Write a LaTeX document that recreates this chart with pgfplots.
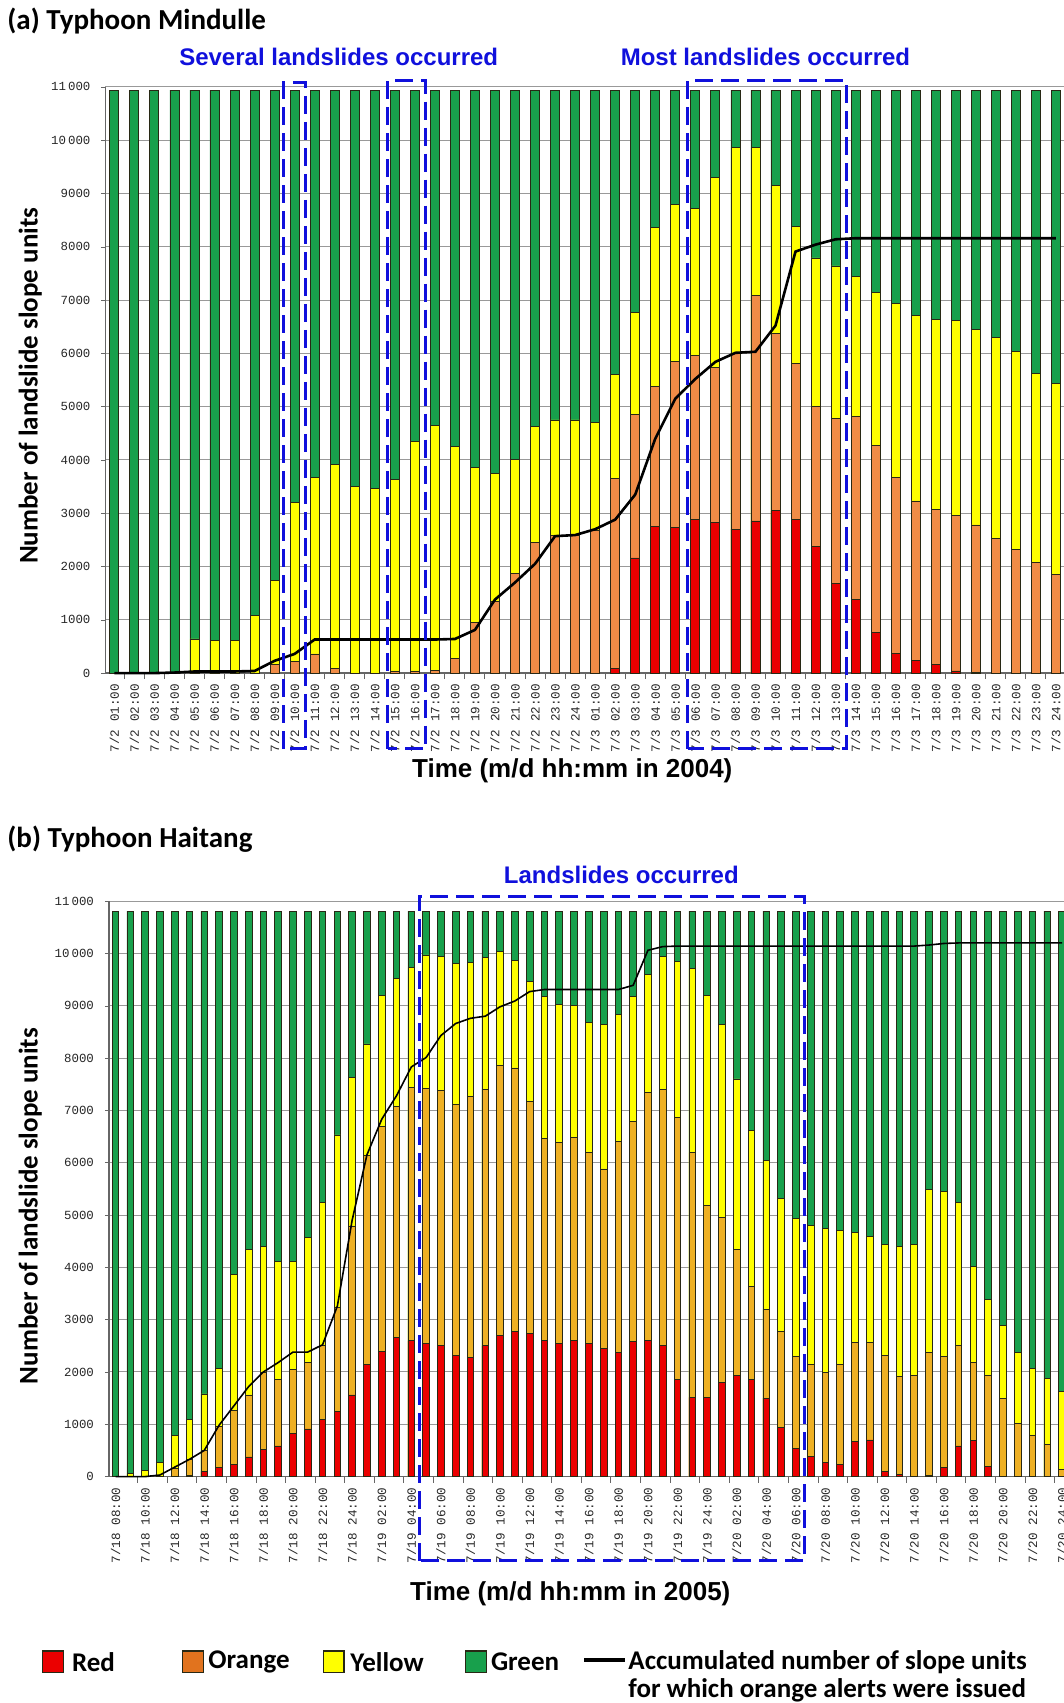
\documentclass[border=0pt]{standalone}
\usepackage{pgfplots}
\usepackage{pgfplotstable}
\pgfplotsset{compat=1.18}
\usepackage{fontspec}
\setmainfont{Carlito}
\newfontfamily\arialf{Liberation Sans}
\newfontfamily\monof{Liberation Mono}

\definecolor{cgreen}{RGB}{24,160,76}
\definecolor{cyellow}{RGB}{255,255,0}
\definecolor{corangeA}{RGB}{240,140,70}
\definecolor{corangeB}{RGB}{238,176,36}
\definecolor{cred}{RGB}{235,0,0}
\definecolor{cblue}{RGB}{16,16,220}
\definecolor{clegorange}{RGB}{225,115,30}
\definecolor{barline}{RGB}{40,40,20}

% x R(top of red) O(top of orange) Y(top of yellow) T(total) L(accumulated line)
\pgfplotstableread{
x R O Y T L
0 0 0 0 10940 0
1 0 0 0 10940 0
2 0 0 0 10940 0
3 0 0 0 10940 10
4 0 0 640 10940 30
5 0 0 620 10940 30
6 0 0 620 10940 30
7 0 0 1075 10940 40
8 0 170 1730 10940 230
9 0 210 3210 10940 360
10 0 360 3670 10940 630
11 0 90 3920 10940 630
12 0 0 3500 10940 630
13 0 0 3460 10940 630
14 0 40 3640 10940 630
15 0 40 4340 10940 630
16 0 50 4640 10940 630
17 0 280 4260 10940 640
18 0 950 3860 10940 810
19 0 1340 3750 10940 1380
20 0 1870 4010 10940 1700
21 0 2450 4620 10940 2050
22 0 2590 4750 10940 2570
23 0 2575 4750 10940 2590
24 0 2670 4700 10940 2700
25 90 3650 5600 10940 2880
26 2160 4860 6770 10940 3350
27 2745 5375 8370 10940 4400
28 2730 5845 8800 10940 5150
29 2875 5960 8720 10940 5520
30 2825 5740 9300 10940 5840
31 2700 6000 9860 10940 6010
32 2855 7080 9860 10940 6030
33 3045 6365 9150 10940 6520
34 2875 5815 8380 10940 7910
35 2375 5010 7790 10940 8040
36 1690 4770 7640 10940 8140
37 1390 4815 7450 10940 8160
38 760 4275 7150 10940 8160
39 370 3670 6940 10940 8160
40 245 3230 6710 10940 8160
41 170 3075 6640 10940 8160
42 40 2950 6620 10940 8160
43 10 2780 6440 10940 8160
44 0 2525 6290 10940 8160
45 0 2325 6040 10940 8160
46 0 2075 5620 10940 8160
47 0 1855 5440 10940 8160
}\tabA

\pgfplotstableread{
x R O Y T L
0 0 0 0 10810 0
1 0 0 60 10810 0
2 0 0 115 10810 0
3 0 0 270 10810 30
4 0 160 780 10810 180
5 30 320 1100 10810 330
6 100 500 1580 10810 500
7 180 960 2070 10810 980
8 225 1270 3870 10810 1350
9 375 1560 4350 10810 1720
10 520 2000 4395 10810 2000
11 585 1860 4110 10810 2180
12 830 2055 4120 10810 2380
13 910 2180 4570 10810 2380
14 1095 2505 5240 10810 2520
15 1240 3230 6530 10810 3260
16 1560 4790 7630 10810 4900
17 2145 6130 8270 10810 6150
18 2400 6700 9200 10810 6830
19 2660 7070 9520 10810 7280
20 2600 7440 9730 10810 7830
21 2550 7420 9970 10810 8010
22 2500 7380 9950 10810 8430
23 2310 7120 9810 10810 8660
24 2280 7270 9820 10810 8760
25 2500 7400 9920 10810 8800
26 2695 7850 10030 10810 8980
27 2770 7810 9860 10810 9090
28 2730 7170 9470 10810 9270
29 2600 6470 9180 10810 9310
30 2550 6380 9030 10810 9310
31 2600 6480 9000 10810 9310
32 2550 6200 8680 10810 9310
33 2450 5880 8650 10810 9310
34 2380 6410 8830 10810 9310
35 2590 6790 9170 10810 9390
36 2600 7340 9590 10810 10060
37 2500 7400 9940 10810 10130
38 1850 6870 9840 10810 10140
39 1515 6190 9710 10810 10140
40 1515 5190 9190 10810 10140
41 1795 4950 8640 10810 10140
42 1925 4340 7600 10810 10140
43 1860 3630 6610 10810 10140
44 1500 3200 6040 10810 10140
45 945 2770 5310 10810 10140
46 540 2300 4930 10810 10140
47 380 2150 4800 10810 10140
48 275 1990 4750 10810 10140
49 225 2140 4700 10810 10140
50 680 2570 4670 10810 10140
51 700 2570 4590 10810 10140
52 95 2310 4430 10810 10140
53 45 1910 4400 10810 10140
54 0 1930 4440 10810 10140
55 20 2380 5480 10810 10160
56 170 2300 5450 10810 10190
57 585 2500 5240 10810 10200
58 690 2185 4010 10810 10200
59 190 1930 3380 10810 10200
60 0 1500 2890 10810 10200
61 0 1010 2380 10810 10200
62 0 780 2060 10810 10200
63 0 620 1880 10810 10200
64 0 130 1625 10810 10200
}\tabB

\pgfplotsset{
  chartaxis/.style={
    scale only axis,
    clip=false,
    ymin=0, ymax=11000,
    scaled y ticks=false,
    axis x line*=bottom, axis y line*=left,
    axis line style={-, draw=black!60, line width=0.6pt},
    ymajorgrids,
    major grid style={draw=black!40, line width=0.5pt},
    ytick={0,1000,...,11000},
    yticklabels={0,1000,2000,3000,4000,5000,6000,7000,8000,9000,10\,000,11\,000},
    tick align=outside,
    major tick length=2pt,
    minor tick length=3pt,
    major x tick style={draw=none},
    minor x tick style={draw=black!60, line width=0.5pt},
    ytick style={draw=black!60},
    yticklabel style={font=\monof\fontsize{6.2}{7}\selectfont, text=black!85, xshift=-2pt},
    xticklabel style={font=\monof\fontsize{6.3}{7}\selectfont, rotate=90, anchor=east, text=black!85},
    xlabel style={font=\arialf\bfseries\fontsize{13}{15}\selectfont, anchor=center},
    ylabel style={font=\bfseries\fontsize{13.5}{15}\selectfont, anchor=center},
  },
  barsty/.style={ybar, bar width=0.45, draw=barline, line width=0.4pt},
}
\tikzset{
  boxsty/.style={draw=cblue, line width=1.5pt, dash pattern=on 9pt off 4pt},
  annsty/.style={font=\arialf\bfseries\fontsize{12}{14}\selectfont, text=cblue},
}

\begin{document}
\begin{tikzpicture}[x=1pt,y=1pt]
\useasboundingbox (0,0) rectangle (532,851.5);

% ---------- panel (a)
\node[anchor=west, font=\bfseries\fontsize{14.5}{16}\selectfont, inner sep=0pt] at (3.5,841.2) {(a) Typhoon Mindulle};
\begin{axis}[chartaxis,
  at={(52.75pt,514.95pt)}, anchor=south west,
  width=479.25pt, height=293.1pt,
  xmin=-0.44, xmax=47.4,
  xtick={0,...,47},
  minor xtick={-0.5,0.5,...,47.5},
  xticklabels={7/2 01:00,7/2 02:00,7/2 03:00,7/2 04:00,7/2 05:00,7/2 06:00,7/2 07:00,7/2 08:00,7/2 09:00,7/2 10:00,7/2 11:00,7/2 12:00,7/2 13:00,7/2 14:00,7/2 15:00,7/2 16:00,7/2 17:00,7/2 18:00,7/2 19:00,7/2 20:00,7/2 21:00,7/2 22:00,7/2 23:00,7/2 24:00,7/3 01:00,7/3 02:00,7/3 03:00,7/3 04:00,7/3 05:00,7/3 06:00,7/3 07:00,7/3 08:00,7/3 09:00,7/3 10:00,7/3 11:00,7/3 12:00,7/3 13:00,7/3 14:00,7/3 15:00,7/3 16:00,7/3 17:00,7/3 18:00,7/3 19:00,7/3 20:00,7/3 21:00,7/3 22:00,7/3 23:00,7/3 24:00},
  xlabel={Time (m/d hh:mm in 2004)},
  xlabel style={at={(axis description cs:0.487,-0.167)}},
  ylabel={Number of landslide slope units},
  ylabel style={at={(axis description cs:-0.0784,0.49)}},
]
\addplot[barsty, fill=cgreen] table[x=x,y=T]{\tabA};
\addplot[barsty, fill=cyellow] table[x=x,y=Y]{\tabA};
\addplot[barsty, fill=corangeA] table[x=x,y=O]{\tabA};
\addplot[barsty, fill=cred] table[x=x,y=R]{\tabA};
\addplot[black, line width=1.3pt, mark=none] table[x=x,y=L]{\tabA};
\draw[boxsty] (axis cs:8.45,-1420) rectangle (axis cs:9.52,11090);
\draw[boxsty] (axis cs:13.64,-1420) rectangle (axis cs:15.54,11125);
\draw[boxsty] (axis cs:28.62,-1420) rectangle (axis cs:36.54,11125);
\node[annsty] at (axis cs:11.2,11570) {Several landslides occurred};
\node[annsty] at (axis cs:32.5,11570) {Most landslides occurred};
\end{axis}

% ---------- panel (b)
\node[anchor=west, font=\bfseries\fontsize{14.5}{16}\selectfont, inner sep=0pt] at (3.5,432) {(b) Typhoon Haitang};
\begin{axis}[chartaxis,
  at={(54.5pt,113.2pt)}, anchor=south west,
  width=477.5pt, height=287.75pt,
  xmin=-0.44, xmax=64.13,
  xtick={0,2,...,64},
  minor xtick={-0.5,1.5,...,64.5},
  xticklabels={7/18 08:00,7/18 10:00,7/18 12:00,7/18 14:00,7/18 16:00,7/18 18:00,7/18 20:00,7/18 22:00,7/18 24:00,7/19 02:00,7/19 04:00,7/19 06:00,7/19 08:00,7/19 10:00,7/19 12:00,7/19 14:00,7/19 16:00,7/19 18:00,7/19 20:00,7/19 22:00,7/19 24:00,7/20 02:00,7/20 04:00,7/20 06:00,7/20 08:00,7/20 10:00,7/20 12:00,7/20 14:00,7/20 16:00,7/20 18:00,7/20 20:00,7/20 22:00,7/20 24:00},
  xlabel={Time (m/d hh:mm in 2005)},
  xlabel style={at={(axis description cs:0.483,-0.204)}},
  ylabel={Number of landslide slope units},
  ylabel style={at={(axis description cs:-0.0823,0.47)}},
]
\addplot[barsty, fill=cgreen] table[x=x,y=T]{\tabB};
\addplot[barsty, fill=cyellow] table[x=x,y=Y]{\tabB};
\addplot[barsty, fill=corangeB] table[x=x,y=O]{\tabB};
\addplot[barsty, fill=cred] table[x=x,y=R]{\tabB};
\addplot[black, line width=0.8pt, mark=none] table[x=x,y=L]{\tabB};
\draw[boxsty] (axis cs:20.53,-1610) rectangle (axis cs:46.56,11095);
\node[annsty] at (axis cs:34.2,11500) {Landslides occurred};
\end{axis}

% ---------- legend
\begin{scope}[font=\bfseries\fontsize{13.5}{15}\selectfont]
\filldraw[fill=cred, draw=barline, line width=0.7pt] (21.3,15.1) rectangle (31.6,25.9);
\node[anchor=west, inner sep=0pt] at (35.8,20.5) {Red};
\filldraw[fill=clegorange, draw=barline, line width=0.7pt] (91.3,15.1) rectangle (101.6,25.9);
\node[anchor=west, inner sep=0pt] at (104,20.5) {Orange};
\filldraw[fill=cyellow, draw=barline, line width=0.7pt] (161.7,15.1) rectangle (172,25.9);
\node[anchor=west, inner sep=0pt] at (175,20.5) {Yellow};
\filldraw[fill=cgreen, draw=barline, line width=0.7pt] (232.8,15.1) rectangle (243.1,25.9);
\node[anchor=west, inner sep=0pt] at (245.3,20.5) {Green};
\draw[black, line width=1.6pt] (292,21.5) -- (312.5,21.5);
\node[anchor=west, inner sep=0pt] at (314,20.5) {Accumulated number of slope units};
\node[anchor=west, inner sep=0pt] at (314,6.5) {for which orange alerts were issued};
\end{scope}
\end{tikzpicture}
\end{document}
